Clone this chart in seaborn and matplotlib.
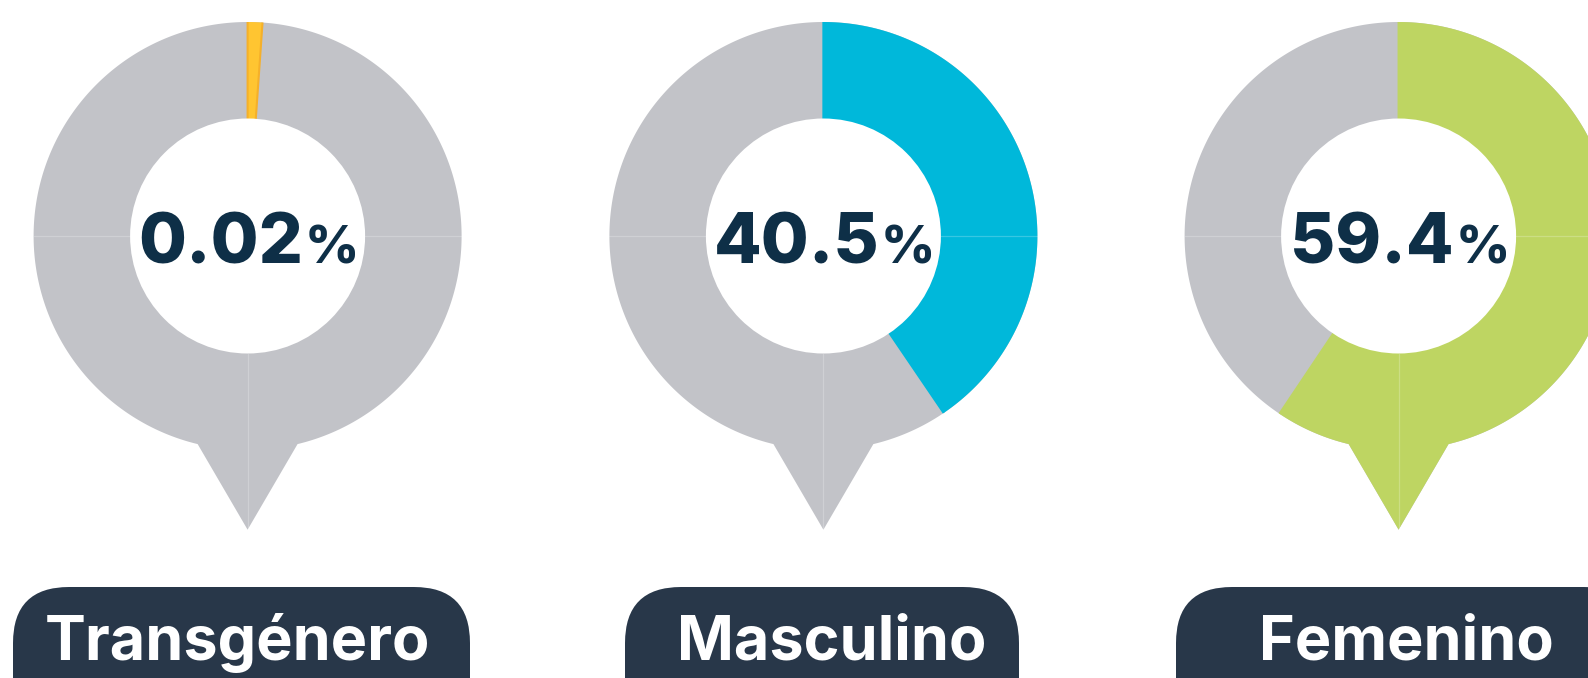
import numpy as np
import matplotlib

matplotlib.use("Agg")

import matplotlib.pyplot as plt
import seaborn as sns
from matplotlib.patches import Polygon, Wedge, Circle, FancyBboxPatch

# data
categories = ["Transgénero", "Masculino", "Femenino"]
shares = [0.02, 40.5, 59.4]
share_labels = ["0.02", "40.5", "59.4"]
colors = ["#ffc531", "#00b8da", "#bed562"]
edge_colors = ["#f5b02a", "#00b8da", "#bed562"]

# layout (pixels, y measured upward)
W, H = 1588, 678
centers_x = [247.6, 823.4, 1398.6]
CY = H - 236
R_OUT, R_IN = 214, 117.5
TIP_Y = H - 529.7
BASE_ANG = 13.5
MIN_SWEEP = 4.0
box_edges = [(13, 470), (625, 1019), (1176, 1640)]
BOX_TOP = H - 587
label_x = [237, 832, 1406]
LABEL_BASE = H - 660
PCT_BASE = H - 263

grey = "#c2c3c8"
navy = "#0e2f47"
box_color = "#283749"

sns.set_theme(style="white")
plt.rcParams["font.family"] = ["Inter", "DejaVu Sans"]

fig = plt.figure(figsize=(W / 100, H / 100), dpi=100)
ax = fig.add_axes([0, 0, 1, 1])
ax.set_xlim(0, W)
ax.set_ylim(0, H)
ax.axis("off")


def pin_outline(cx):
    th = np.radians(np.linspace(-90 + BASE_ANG, 270 - BASE_ANG, 500))
    pts = np.column_stack([cx + R_OUT * np.cos(th), CY + R_OUT * np.sin(th)])
    return np.vstack([pts, [cx, TIP_Y]])


for cx, val, col, ec in zip(centers_x, shares, colors, edge_colors):
    pin = Polygon(pin_outline(cx), closed=True, fc=grey, ec="none", zorder=1)
    ax.add_patch(pin)

    sweep = max(val / 100 * 360, MIN_SWEEP)
    wedge = Wedge((cx, CY), 420, 90 - sweep, 90, fc=col, ec=ec, lw=1.5, zorder=2)
    ax.add_patch(wedge)
    wedge.set_clip_path(pin)

    # faint seams of the original artwork
    seam = dict(color="white", alpha=0.22, lw=0.9, zorder=3)
    ax.plot([cx - R_OUT, cx - R_IN], [CY, CY], **seam)
    ax.plot([cx + R_IN, cx + R_OUT], [CY, CY], **seam)
    ax.plot([cx, cx], [CY - R_IN, TIP_Y], **seam)

    ax.add_patch(Circle((cx, CY), R_IN, fc="white", ec="none", zorder=4))

for (x0, x1), lab, lx in zip(box_edges, categories, label_x):
    box = FancyBboxPatch((x0, -80), x1 - x0, BOX_TOP + 80,
                         boxstyle="round,pad=0,rounding_size=56",
                         fc=box_color, ec="none", zorder=5)
    ax.add_patch(box)
    ax.text(lx, LABEL_BASE, lab, ha="center", va="baseline", color="white",
            fontsize=44, fontweight="bold", zorder=6)

renderer = fig.canvas.get_renderer()
for cx, lab in zip(centers_x, share_labels):
    t1 = ax.text(0, PCT_BASE, lab, ha="left", va="baseline", color=navy,
                 fontsize=50, fontweight="heavy", zorder=6)
    t2 = ax.text(0, PCT_BASE, "%", ha="left", va="baseline", color=navy,
                 fontsize=38, fontweight="heavy", zorder=6)
    w1 = t1.get_window_extent(renderer).width
    w2 = t2.get_window_extent(renderer).width
    start = cx - (w1 + w2) / 2
    t1.set_x(start)
    t2.set_x(start + w1 + 2)

fig.savefig("out.png", dpi=100)
plt.close(fig)
